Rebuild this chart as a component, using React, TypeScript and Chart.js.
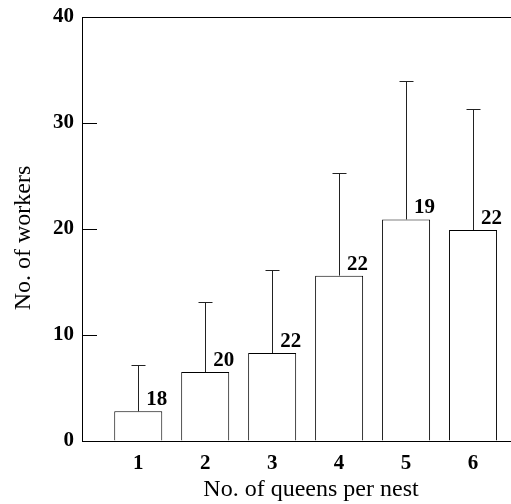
import React, { useEffect, useRef } from "react";
import { Chart, registerables } from "chart.js";

Chart.register(...registerables);

const queens = [1, 2, 3, 4, 5, 6];
const workersMean = [2.8, 6.5, 8.3, 15.6, 20.9, 19.9];
const workersSD = [4.4, 6.6, 7.8, 9.7, 13.1, 11.4];
const sampleSizes = ["18", "20", "22", "22", "19", "22"];
const yTicks = [0, 10, 20, 30, 40];

const FONT = "'Liberation Serif', serif";

const errorBarsPlugin = {
  id: "errorBarsAndLabels",
  afterDatasetsDraw(chart: any) {
    const { ctx, scales } = chart;
    const y = scales.y;
    const meta = chart.getDatasetMeta(0);
    ctx.save();
    meta.data.forEach((bar: any, i: number) => {
      const cx = Math.round(bar.x) + 0.5;
      const top = y.getPixelForValue(workersMean[i]);
      const errTop = Math.round(y.getPixelForValue(workersMean[i] + workersSD[i])) + 0.5;
      ctx.strokeStyle = "#222";
      ctx.lineWidth = 1;
      ctx.beginPath();
      ctx.moveTo(cx, top);
      ctx.lineTo(cx, errTop);
      ctx.moveTo(cx - 7, errTop);
      ctx.lineTo(cx + 7, errTop);
      ctx.stroke();
      ctx.fillStyle = "#000";
      ctx.font = `bold 21px ${FONT}`;
      ctx.textAlign = "left";
      ctx.textBaseline = "alphabetic";
      ctx.fillText(sampleSizes[i], bar.x + 8, top - 6);
    });
    ctx.restore();
  },
};

const inwardTicksPlugin = {
  id: "inwardTicks",
  afterDraw(chart: any) {
    const { ctx, scales, chartArea } = chart;
    const y = scales.y;
    ctx.save();
    ctx.strokeStyle = "#000";
    ctx.lineWidth = 1;
    ctx.beginPath();
    yTicks.forEach((v) => {
      if (v === 0 || v === 40) return;
      const py = Math.round(y.getPixelForValue(v)) + 0.5;
      ctx.moveTo(chartArea.left, py);
      ctx.lineTo(chartArea.left + 15, py);
    });
    ctx.stroke();
    ctx.restore();
  },
};

export default function App() {
  const ref = useRef<HTMLCanvasElement>(null);
  useEffect(() => {
    if (!ref.current) return;
    const chart = new Chart(ref.current, {
      type: "bar",
      data: {
        datasets: [
          {
            data: queens.map((q, i) => ({ x: q, y: workersMean[i] })),
            backgroundColor: "#fff",
            borderColor: "#000",
            borderWidth: 1,
            categoryPercentage: 1,
            barPercentage: 0.717,
          },
        ],
      },
      options: {
        animation: false,
        responsive: false,
        devicePixelRatio: 1,
        layout: { padding: { top: 17, left: 0, right: 0, bottom: 0 } },
        plugins: { legend: { display: false }, tooltip: { enabled: false } },
        scales: {
          x: {
            type: "linear",
            offset: false,
            min: 0.16,
            max: 7,
            afterBuildTicks: (s: any) => {
              s.ticks = queens.map((v) => ({ value: v }));
            },
            afterFit: (s: any) => {
              s.height = 63;
              s.paddingLeft = 0;
              s.paddingRight = 0;
            },
            grid: { display: false, drawTicks: false },
            border: { display: true, color: "#000", width: 1 },
            ticks: {
              color: "#000",
              padding: 10,
              font: { family: FONT, size: 21, weight: "bold" },
              maxRotation: 0,
              callback: (v: any) => String(v),
            },
            title: {
              display: true,
              text: "No. of queens per nest",
              color: "#000",
              font: { family: FONT, size: 24 },
              padding: { top: 0, bottom: 0 },
            },
          },
          y: {
            type: "linear",
            min: 0,
            max: 40,
            afterBuildTicks: (s: any) => {
              s.ticks = yTicks.map((v) => ({ value: v }));
            },
            afterFit: (s: any) => {
              s.width = 82;
              s.paddingTop = 0;
              s.paddingBottom = 0;
            },
            grid: {
              drawTicks: false,
              color: (c: any) =>
                c.tick && (c.tick.value === 0 || c.tick.value === 40) ? "#000" : "rgba(0,0,0,0)",
            },
            border: { display: true, color: "#000", width: 1 },
            ticks: {
              color: "#000",
              padding: 8,
              font: { family: FONT, size: 21, weight: "bold" },
            },
            title: {
              display: true,
              text: "No. of workers   ",
              color: "#000",
              font: { family: FONT, size: 24 },
              padding: { top: 9, bottom: 0 },
            },
          },
        },
      },
      plugins: [errorBarsPlugin, inwardTicksPlugin],
    });
    return () => chart.destroy();
  }, []);
  return (
    <div
      style={{
        position: "absolute",
        left: 0,
        top: 0,
        width: 511,
        height: 504,
        overflow: "hidden",
        background: "#fff",
      }}
    >
      <canvas ref={ref} width={540} height={504} style={{ width: 540, height: 504 }} />
    </div>
  );
}
